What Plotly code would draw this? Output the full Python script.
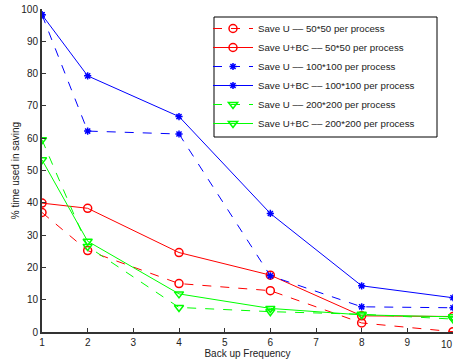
import plotly.graph_objects as go

freq = [1, 2, 4, 6, 8, 10]
u_50 = [37.0, 25.2, 15.0, 12.8, 2.8, 0.1]
ubc_50 = [39.9, 38.3, 24.6, 17.6, 5.0, 4.8]
u_100 = [98.2, 62.2, 61.3, 17.4, 7.8, 7.5]
ubc_100 = [98.2, 79.3, 66.7, 36.7, 14.3, 10.6]
u_200 = [59.5, 26.5, 7.6, 6.3, 5.5, 4.0]
ubc_200 = [53.3, 28.1, 11.8, 7.3, 5.3, 4.7]

names = [
    "Save U –– 50*50 per process",
    "Save U+BC –– 50*50 per process",
    "Save U –– 100*100 per process",
    "Save U+BC –– 100*100 per process",
    "Save U –– 200*200 per process",
    "Save U+BC –– 200*200 per process",
]
series = [u_50, ubc_50, u_100, ubc_100, u_200, ubc_200]
colors = ["#ff0000", "#ff0000", "#0000ff", "#0000ff", "#00ff00", "#00ff00"]
dashes = ["dash", "solid", "dash", "solid", "dash", "solid"]
symbols = ["circle-open", "circle-open", "asterisk-open", "asterisk-open",
           "triangle-down-open", "triangle-down-open"]
sizes = [8, 8, 6, 6, 8, 8]

fig = go.Figure()
for n, s, c, d, m, sz in zip(names, series, colors, dashes, symbols, sizes):
    fig.add_trace(go.Scatter(
        x=freq, y=s, name=n, mode="lines+markers",
        line=dict(color=c, width=1, dash=d),
        marker=dict(symbol=m, size=sz, color=c, line=dict(color=c, width=1.5)),
    ))

# legend box drawn as a shape (MATLAB-style wide box)
fig.add_shape(type="rect", xref="paper", yref="paper",
              x0=(214 - 42) / 411, x1=(437 - 42) / 411,
              y0=(332 - 137) / 323, y1=(332 - 17) / 323,
              line=dict(color="black", width=1), fillcolor="white", layer="above")

# "10" tick label at the right edge
fig.add_annotation(x=10, y=0, xref="x", yref="y", text="10", showarrow=False,
                   yshift=-12, xshift=2, xanchor="right", font=dict(size=10, color="#222"))

fig.update_layout(
    width=454, height=362,
    margin=dict(l=42, r=1, t=9, b=30),
    paper_bgcolor="white", plot_bgcolor="white",
    font=dict(family="Liberation Sans, Arial, sans-serif", size=10, color="#222"),
    showlegend=True,
    legend=dict(x=(208 - 42) / 411, y=(332 - 14) / 323, xanchor="left", yanchor="top",
                borderwidth=0, bgcolor="rgba(0,0,0,0)",
                font=dict(size=9.7, color="#222"), tracegroupgap=0,
                itemwidth=40),
)
fig.update_xaxes(range=[1, 10], tickmode="linear", tick0=1, dtick=1,
                 showgrid=False, zeroline=False, showline=True,
                 linecolor="#333", linewidth=2, ticks="inside", ticklen=4,
                 tickcolor="#333", automargin=False,
                 title=dict(text="Back up Frequency", standoff=2, font=dict(size=10)))
fig.update_yaxes(range=[0, 100], tickmode="linear", tick0=0, dtick=10,
                 showgrid=False, zeroline=False, showline=True,
                 linecolor="#333", linewidth=2, ticks="inside", ticklen=4,
                 tickcolor="#333", automargin=False,
                 title=dict(text="% time used in saving", standoff=0, font=dict(size=10)))

fig.write_html("out.html", config={"displayModeBar": False},
               post_script="document.body.style.margin='0';document.body.style.overflow='hidden';")
